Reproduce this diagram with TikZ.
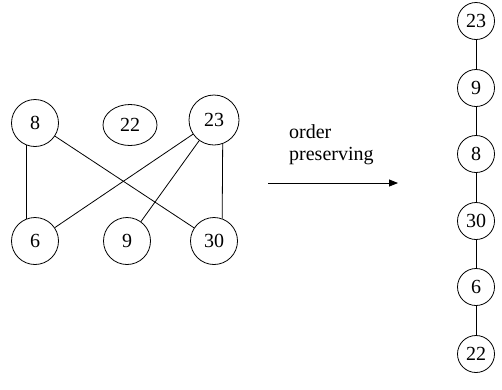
\documentclass[tikz,border=0pt]{standalone}
\usepackage{fontspec}
\setmainfont{Liberation Serif}
\usetikzlibrary{shapes.geometric,arrows.meta}
\begin{document}
\begin{tikzpicture}[x=1pt,y=-1pt,
  every node/.style={font=\fontsize{20}{24}\selectfont},
  vtx/.style={draw,line width=0.8pt,ellipse,inner sep=0pt,minimum width=#1,minimum height=#1},
  vtx/.default=47,
  chainvtx/.style={draw,line width=0.8pt,circle,inner sep=0pt,minimum size=37},
  edge/.style={line width=0.8pt}]
\useasboundingbox (0,0) rectangle (502,389);

% unordered graph
\node[vtx] (a8) at (35,123) {8};
\node[vtx,minimum width=54,minimum height=41] (a22) at (130,125) {22};
\node[vtx=50] (a23) at (214,120) {23};
\node[vtx] (a6) at (35,241) {6};
\node[vtx] (a9) at (127,241) {9};
\node[vtx] (a30) at (214,241) {30};

\draw[edge] (a8.250) -- (a6.110);
\draw[edge] (a8) -- (a30);
\draw[edge] (a23) -- (a6);
\draw[edge] (a23) -- (a9);
\draw[edge] (a23.290) -- (a30.70);

% transformation arrow and its label
\coordinate (arrS) at (268,183);
\coordinate (arrE) at (398,183);
\draw[edge,-{Triangle[length=9pt,width=7pt]}] (arrS) -- (arrE);
\node[anchor=west,inner sep=0pt] (lblA) at (289,132) {order};
\node[anchor=west,inner sep=0pt] (lblB) at (289,156) {preserving};

% resulting chain
\node[chainvtx] (b23) at (476,21) {23};
\node[chainvtx] (b9)  at (476,88) {9};
\node[chainvtx] (b8)  at (476,154) {8};
\node[chainvtx] (b30) at (476,221) {30};
\node[chainvtx] (b6)  at (476,287) {6};
\node[chainvtx] (b22) at (476,354) {22};

\draw[edge] (b23) -- (b9) -- (b8) -- (b30) -- (b6) -- (b22);
\end{tikzpicture}
\end{document}
